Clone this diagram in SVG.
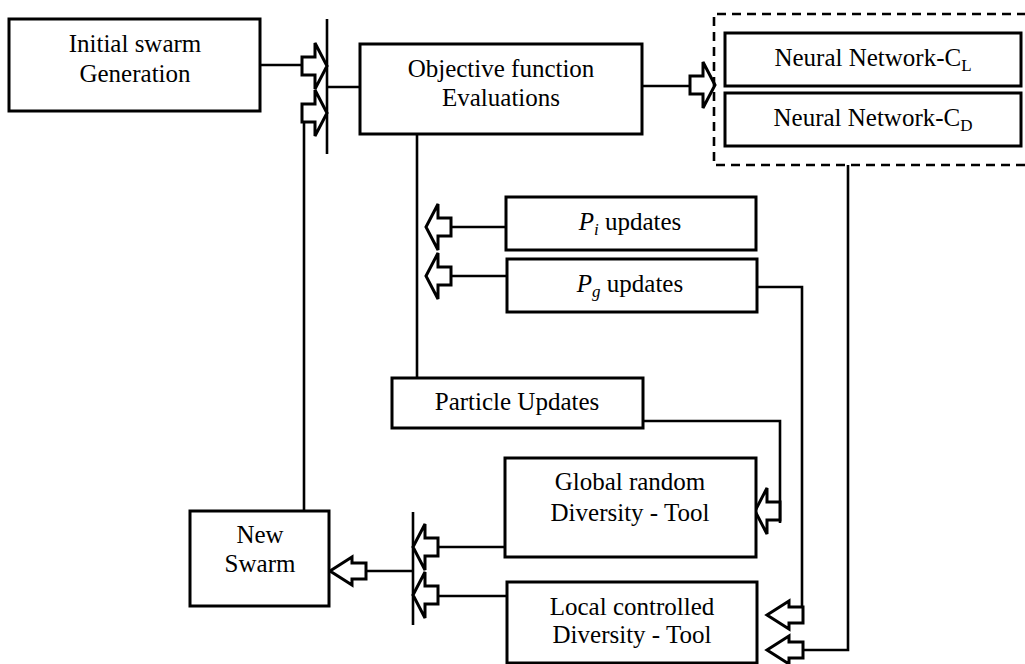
<svg xmlns="http://www.w3.org/2000/svg" width="1025" height="664" viewBox="0 0 1025 664">
<style>
.box{fill:#fff;stroke:#000;stroke-width:3}
.ln{fill:none;stroke:#000;stroke-width:2.6}
.arw{fill:#fff;stroke:#000;stroke-width:3;stroke-linejoin:miter}
.dash{fill:none;stroke:#000;stroke-width:2.6;stroke-dasharray:9 6}
text{font-family:"Liberation Serif","Times New Roman",serif;font-size:25px;fill:#000;text-anchor:middle}
.it{font-style:italic}
</style>
<defs>
<path id="bigR" d="M0,0 L-12,-23 L-12,-9 L-25,-9 L-25,9 L-12,9 L-12,23 Z"/>
<path id="bigL" d="M0,0 L12,-23 L12,-9 L25,-9 L25,9 L12,9 L12,23 Z"/>
<path id="smL" d="M0,0 L22,-14 L22,-8 L36,-8 L36,8 L22,8 L22,14 Z"/>
</defs>
<rect width="1025" height="664" fill="#fff"/>
<g id="connectors">
<path class="ln" d="M260,65 H305"/>
<path class="ln" d="M327,19 V154"/>
<path class="ln" d="M327,87 H360"/>
<path class="ln" d="M304,511 V122"/>
<path class="ln" d="M642,86 H690"/>
<path class="ln" d="M417,134 V378"/>
<path class="ln" d="M451,227 H506"/>
<path class="ln" d="M451,276 H507"/>
<path class="ln" d="M757,287 H802 V615"/>
<path class="ln" d="M848,165 V650 H803"/>
<path class="ln" d="M643,421 H780 V523"/>
<path class="ln" d="M439,547 H505"/>
<path class="ln" d="M439,596 H507"/>
<path class="ln" d="M413,512 V625"/>
<path class="ln" d="M367,571 H413"/>
<use href="#bigR" class="arw" transform="translate(327,66)"/>
<use href="#bigR" class="arw" transform="translate(327,113)"/>
<use href="#bigR" class="arw" transform="translate(715,85)"/>
<use href="#bigL" class="arw" transform="translate(426,227)"/>
<use href="#bigL" class="arw" transform="translate(426,276)"/>
<use href="#bigL" class="arw" transform="translate(755,511)"/>
<use href="#bigL" class="arw" transform="translate(413,547)"/>
<use href="#bigL" class="arw" transform="translate(413,595)"/>
<use href="#smL" class="arw" transform="translate(767,615)"/>
<use href="#smL" class="arw" transform="translate(767,650)"/>
<use href="#smL" class="arw" transform="translate(330,571)"/>
</g>
<g id="nn-group">
<path class="dash" d="M1026,14 H714 V165 H1026"/>
</g>
<g id="initial">
<rect class="box" x="9" y="19" width="251" height="92"/>
<text x="135" y="52">Initial swarm</text>
<text x="135" y="82">Generation</text>
</g>
<g id="objective">
<rect class="box" x="360" y="44" width="282" height="90"/>
<text x="501" y="77">Objective function</text>
<text x="501" y="106">Evaluations</text>
</g>
<g id="nn-cl">
<rect class="box" x="725" y="33" width="296" height="53"/>
<text x="873" y="66">Neural Network-C<tspan font-size="17" dy="5">L</tspan></text>
</g>
<g id="nn-cd">
<rect class="box" x="725" y="93" width="296" height="53"/>
<text x="873" y="126">Neural Network-C<tspan font-size="17" dy="5">D</tspan></text>
</g>
<g id="pi">
<rect class="box" x="506" y="197" width="250" height="53"/>
<text x="630" y="230"><tspan class="it">P</tspan><tspan class="it" font-size="17" dy="5">i</tspan><tspan dy="-5"> updates</tspan></text>
</g>
<g id="pg">
<rect class="box" x="507" y="259" width="250" height="53"/>
<text x="630" y="292"><tspan class="it">P</tspan><tspan class="it" font-size="17" dy="5">g</tspan><tspan dy="-5"> updates</tspan></text>
</g>
<g id="particle">
<rect class="box" x="392" y="378" width="251" height="50"/>
<text x="517" y="410">Particle Updates</text>
</g>
<g id="global">
<rect class="box" x="505" y="458" width="251" height="99"/>
<text x="630" y="490">Global random</text>
<text x="630" y="521">Diversity - Tool</text>
</g>
<g id="local">
<rect class="box" x="507" y="582" width="250" height="81"/>
<text x="632" y="615">Local controlled</text>
<text x="632" y="643">Diversity - Tool</text>
</g>
<g id="newswarm">
<rect class="box" x="190" y="511" width="139" height="95"/>
<text x="260" y="543">New</text>
<text x="260" y="572">Swarm</text>
</g>
</svg>
